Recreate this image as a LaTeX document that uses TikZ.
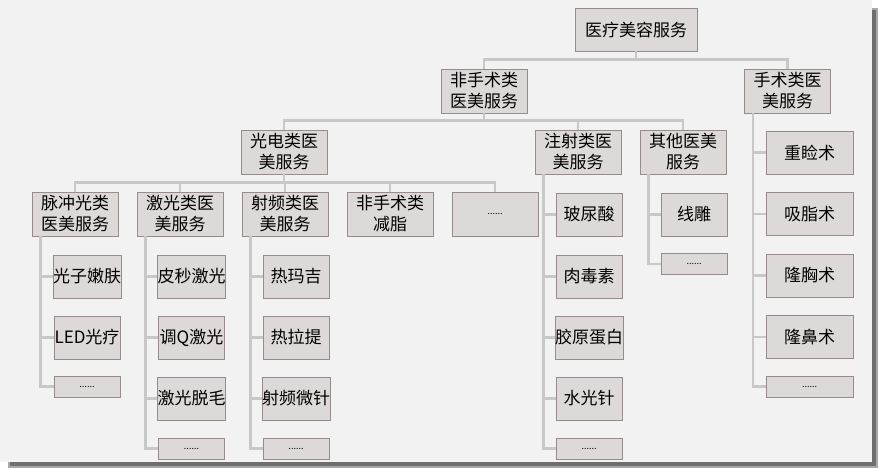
\documentclass[tikz,border=0pt]{standalone}
\usepackage{fontspec}
\setmainfont{Noto Sans CJK SC}
\usetikzlibrary{calc}
\definecolor{bgc}{RGB}{242,242,242}
\definecolor{boxf}{RGB}{222,217,217}
\definecolor{boxd}{RGB}{150,140,140}
\definecolor{linec}{RGB}{200,200,200}
\definecolor{shad}{RGB}{110,110,110}
\begin{document}
\begin{tikzpicture}[x=1pt,y=-1pt,
  bx/.style={draw=boxd,fill=boxf,line width=0.9pt,inner sep=0pt,align=center,font=\fontsize{17}{21}\selectfont,text=black},
  lv/.style={bx,minimum width=86pt,minimum height=44pt},
  ch/.style={bx,minimum width=66pt,minimum height=43pt},
  wch/.style={bx,minimum width=87pt,minimum height=43pt},
  dt/.style={bx,minimum width=66pt,minimum height=21pt,font=\fontsize{9}{10}\selectfont},
  conn/.style={draw=linec,line width=2.2pt}]
\useasboundingbox (0,0) rectangle (880,470);
\fill[shad!60] (8,8) rectangle (878,468);
\fill[shad] (10,10) rectangle (876,466);
\fill[bgc] (0,0) rectangle (872,462);
% tree connectors
\foreach \p/\c/\px/\py/\cx/\cy in {root/fss/636/51/484/69,root/ss/636/51/787.5/69,fss/gd/484/113/284/130,fss/zs/484/113/578/130,fss/qt/484/113/683/130,gd/mc/284/174/75/192,gd/jg/284/174/180/192,gd/sp/284/174/285/192,gd/jz/284/174/390/192,gd/gdd/284/174/495/192}
  {}
% nodes
\node[bx,minimum width=122pt,minimum height=43pt] (root) at (636,29.5) {医疗美容服务};
\node[lv] (fss) at (484,91) {非手术类\\医美服务};
\node[lv] (ss) at (787.5,91) {手术类医\\美服务};
\node[lv] (gd) at (284,152) {光电类医\\美服务};
\node[lv] (zs) at (578,152) {注射类医\\美服务};
\node[lv] (qt) at (683,152) {其他医美\\服务};
\node[lv] (mc) at (75,214) {脉冲光类\\医美服务};
\node[lv] (jg) at (180,214) {激光类医\\美服务};
\node[lv] (sp) at (285,214) {射频类医\\美服务};
\node[lv] (jz) at (390,214) {非手术类\\减脂};
\node[lv,font=\fontsize{9}{10}\selectfont] (gdd) at (495,214) {......};
% children
\node[ch] (m1) at (87,276.5) {光子嫩肤};
\node[ch] (m2) at (87,337.5) {LED光疗};
\node[dt] (m3) at (87,386.5) {......};
\node[ch] (j1) at (191.5,276.5) {皮秒激光};
\node[ch] (j2) at (191.5,337.5) {调Q激光};
\node[ch] (j3) at (191.5,398.5) {激光脱毛};
\node[dt] (j4) at (191.5,448.5) {......};
\node[ch] (s1) at (296,276.5) {热玛吉};
\node[ch] (s2) at (296,337.5) {热拉提};
\node[ch] (s3) at (296,398.5) {射频微针};
\node[dt] (s4) at (296,448.5) {......};
\node[ch] (z1) at (589,214.5) {玻尿酸};
\node[ch] (z2) at (589,276.5) {肉毒素};
\node[ch] (z3) at (589,337.5) {胶原蛋白};
\node[ch] (z4) at (589,398.5) {水光针};
\node[dt] (z5) at (589,448.5) {......};
\node[ch] (q1) at (694,214.5) {线雕};
\node[dt] (q2) at (694,264) {......};
\node[wch] (h1) at (809.5,152.5) {重睑术};
\node[wch] (h2) at (809.5,214) {吸脂术};
\node[wch] (h3) at (809.5,275.5) {隆胸术};
\node[wch] (h4) at (809.5,337) {隆鼻术};
\node[wch,minimum height=21pt,font=\fontsize{9}{10}\selectfont] (h5) at (809.5,386.5) {......};
\foreach \p/\c in {root/fss,root/ss,fss/gd,fss/zs,fss/qt,gd/mc,gd/jg,gd/sp,gd/jz,gd/gdd}
  \draw[conn] (\p.south) |- ($(\c.north)+(0,-9)$) -- (\c.north);
\foreach \p/\cs in {mc/{m1,m2,m3},jg/{j1,j2,j3,j4},sp/{s1,s2,s3,s4},zs/{z1,z2,z3,z4,z5},qt/{q1,q2},ss/{h1,h2,h3,h4,h5}}
  \foreach \c in \cs
    \draw[conn] ($(\p.south west)+(9,0)$) |- (\c.west);
\end{tikzpicture}
\end{document}
